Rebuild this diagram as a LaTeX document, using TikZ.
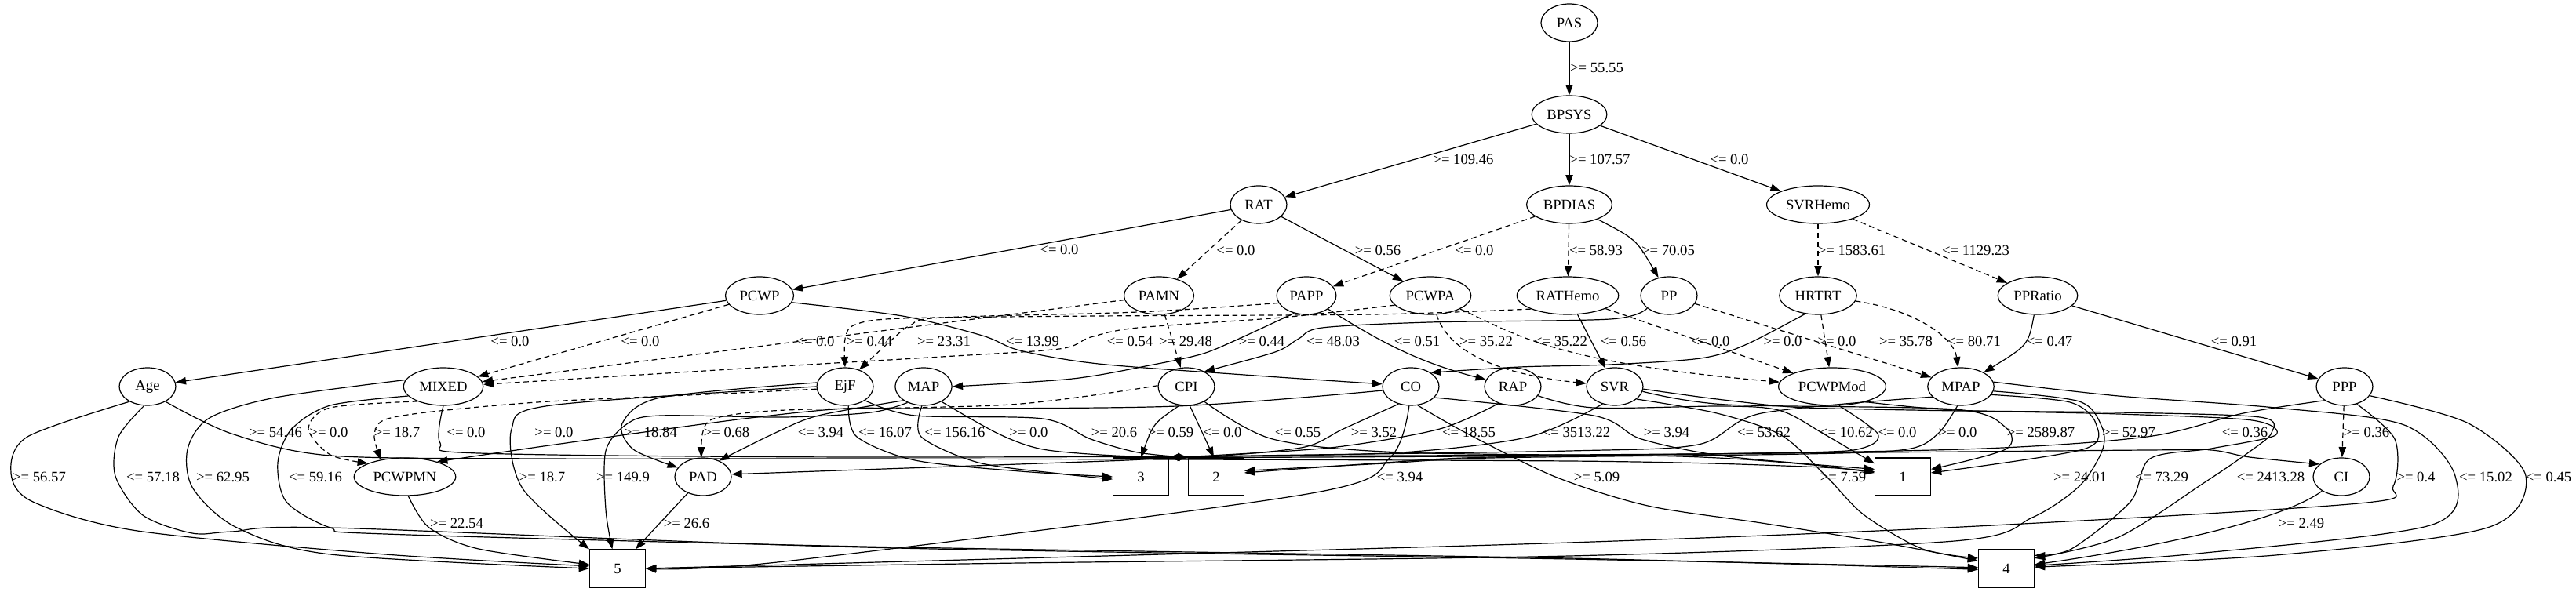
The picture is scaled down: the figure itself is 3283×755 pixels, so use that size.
\documentclass[tikz,border=0pt]{standalone}
\usepackage{fontspec}
\setmainfont{Liberation Serif}
\usetikzlibrary{shapes.geometric,arrows.meta}
\tikzset{
  gvfont/.style={font=\fontsize{14}{16}\selectfont},
  nd/.style={ellipse, draw, line width=0.9pt, minimum width=54pt, minimum height=36pt, inner xsep=4pt, inner ysep=1pt, gvfont},
  leaf/.style={rectangle, draw, line width=0.9pt, minimum width=53pt, minimum height=36pt, gvfont},
  conn/.style={line width=0.9pt, -{Triangle[length=10pt,width=7pt]}},
  dsh/.style={dash pattern=on 5pt off 3.5pt},
  elabel/.style={gvfont, inner sep=0pt},
}
\begin{document}
\begin{tikzpicture}[x=0.75pt,y=-0.75pt]
\useasboundingbox (0,0) rectangle (3283,755);
% nodes
\node[nd] (PAS) at (2000,29) {PAS};
\node[nd] (BPSYS) at (2000,146) {BPSYS};
\node[nd] (RAT) at (1604,261) {RAT};
\node[nd] (BPDIAS) at (2000,261) {BPDIAS};
\node[nd] (SVRHemo) at (2317,261) {SVRHemo};
\node[nd] (PCWP) at (968,377) {PCWP};
\node[nd] (PAMN) at (1477,377) {PAMN};
\node[nd] (PAPP) at (1665,377) {PAPP};
\node[nd] (PCWPA) at (1823,377) {PCWPA};
\node[nd] (RATHemo) at (1998,377) {RATHemo};
\node[nd] (PP) at (2127,377) {PP};
\node[nd] (HRTRT) at (2317,377) {HRTRT};
\node[nd] (PPRatio) at (2597,377) {PPRatio};
\node[nd] (Age) at (188,493) {Age};
\node[nd] (MIXED) at (565,493) {MIXED};
\node[nd] (EjF) at (1077,493) {EjF};
\node[nd] (MAP) at (1177,493) {MAP};
\node[nd] (CPI) at (1512,493) {CPI};
\node[nd] (CO) at (1798,493) {CO};
\node[nd] (RAP) at (1928,493) {RAP};
\node[nd] (SVR) at (2058,493) {SVR};
\node[nd] (PCWPMod) at (2335,493) {PCWPMod};
\node[nd] (MPAP) at (2499,493) {MPAP};
\node[nd] (PPP) at (2988,493) {PPP};
\node[nd] (PCWPMN) at (516,608) {PCWPMN};
\node[nd] (PAD) at (896,608) {PAD};
\node[leaf] (b3) at (1454,608) {3};
\node[leaf] (b2) at (1550,608) {2};
\node[leaf] (b1) at (2425,608) {1};
\node[nd] (CI) at (2984,608) {CI};
\node[leaf] (b5) at (787,725) {5};
\node[leaf] (b4) at (2557,725) {4};

% rows 0-3
\draw[conn] (PAS) -- (BPSYS);
\draw[conn] (BPSYS) -- (RAT);
\draw[conn] (BPSYS) -- (BPDIAS);
\draw[conn] (BPSYS) -- (SVRHemo);
\draw[conn] (RAT) -- (PCWP);
\draw[conn,dsh] (RAT) -- (PAMN);
\draw[conn] (RAT) -- (PCWPA);
\draw[conn,dsh] (BPDIAS) -- (PAPP);
\draw[conn,dsh] (BPDIAS) -- (RATHemo);
\draw[conn] (BPDIAS) .. controls (2085,305) .. (PP);
\draw[conn,dsh] (SVRHemo) -- (HRTRT);
\draw[conn,dsh] (SVRHemo) -- (PPRatio);

% row 3 -> 4
\draw[conn] (PCWP) -- (Age);
\draw[conn,dsh] (PCWP) -- (MIXED);
\draw[conn,dsh] (PAMN) -- (MIXED);
\draw[conn,dsh] plot[smooth,tension=0.5] coordinates {(RATHemo.200) (1750,401) (1400,403) (1150,406) (1090,414) (1077,432) (EjF.north)};
\draw[conn,dsh] plot[smooth,tension=0.5] coordinates {(PAPP.195) (1450,398) (1200,405) (1160,415) (1138,432) (EjF.50)};
\draw[conn] plot[smooth,tension=0.5] coordinates {(PCWP.-12) (1150,403) (1252,428) (1300,447) (1400,464) (1600,479) (CO.175)};
\draw[conn,dsh] plot[smooth,tension=0.5] coordinates {(PCWPA.195) (1633,405) (1450,418) (1390,430) (1350,445) (1200,455) (980,468) (MIXED.3)};
\draw[conn,dsh] (PAMN) -- (CPI);
\draw[conn] plot[smooth,tension=0.5] coordinates {(PAPP.235) (1568,437) (1530,452) (1470,465) (1367,483) (MAP.east)};
\draw[conn] plot[smooth,tension=0.5] coordinates {(PP.210) (2052,407) (1822,411) (1685,418) (1655,432) (1625,449) (CPI.40)};
\draw[conn] (PAPP) .. controls (1750,430) and (1800,460) .. (RAP);
\draw[conn,dsh] (PCWPA) .. controls (1845,445) and (1900,476) .. (SVR);
\draw[conn,dsh] (PCWPA) .. controls (1930,425) and (1975,462) .. (PCWPMod);
\draw[conn] (RATHemo) -- (SVR);
\draw[conn,dsh] (RATHemo) -- (PCWPMod);
\draw[conn] plot[smooth,tension=0.5] coordinates {(HRTRT.235) (2224,440) (2167,457) (2052,465) (1937,468) (CO.35)};
\draw[conn,dsh] (HRTRT) -- (PCWPMod);
\draw[conn,dsh] (PP) -- (MPAP);
\draw[conn,dsh] (HRTRT) .. controls (2440,395) and (2490,430) .. (MPAP);
\draw[conn] (PPRatio) .. controls (2585,440) .. (MPAP);
\draw[conn] (PPRatio) -- (PPP);

% row 4 -> 5 / 6
\draw[conn] plot[smooth,tension=0.5] coordinates {(Age.-40) (295,553) (421,581) (700,585) (1100,585) (2000,588) (2300,595) (b1.170)};
\draw[conn] plot[smooth,tension=0.5] coordinates {(MIXED.-90) (561,565) (610,578) (1100,583) (2000,580) (2736,574) (2818,574) (2867,583) (CI.150)};
\draw[conn] plot[smooth,tension=0.5] coordinates {(Age.220) (35,557) (14,603) (42,640) (175,677) (491,707) (b5.175)};
\draw[conn] plot[smooth,tension=0.5] coordinates {(Age.-100) (151,557) (147,607) (182,657) (245,680) (295,678) (421,673) (1100,698) (2000,713) (b4.178)};
\draw[conn] plot[smooth,tension=0.5] coordinates {(MIXED.170) (351,507) (267,533) (239,573) (246,623) (302,673) (421,707) (b5.180)};
\draw[conn] plot[smooth,tension=0.5] coordinates {(MIXED.195) (421,517) (372,547) (354,590) (365,640) (421,673) (491,681) (1100,697) (2000,712) (b4.182)};
\draw[conn,dsh] plot[smooth,tension=0.5] coordinates {(MIXED.210) (421,520) (393,547) (421,580) (PCWPMN.160)};
\draw[conn,dsh] plot[smooth,tension=0.5] coordinates {(EjF.185) (900,503) (700,512) (560,524) (491,535) (477,555) (PCWPMN.145)};
\draw[conn] plot[smooth,tension=0.5] coordinates {(CO.188) (1500,518) (1177,521) (1077,521) (940,535) (700,568) (PCWPMN.25)};
\draw[conn] plot[smooth,tension=0.5] coordinates {(EjF.172) (842,507) (793,540) (807,573) (PAD.160)};
\draw[conn] plot[smooth,tension=0.5] coordinates {(EjF.180) (702,517) (652,547) (666,623) (b5.north west)};
\draw[conn] plot[smooth,tension=0.5] coordinates {(MAP.225) (1110,526) (1000,532) (842,530) (800,540) (772,575) (772,650) (b5.105)};
\draw[conn,dsh] plot[smooth,tension=0.5] coordinates {(CPI.178) (1288,516) (1002,523) (913,533) (896,550) (PAD.95)};
\draw[conn] plot[smooth,tension=0.5] coordinates {(MAP.215) (1043,530) (986,553) (PAD.45)};
\draw[conn] plot[smooth,tension=0.5] coordinates {(EjF.-80) (1092,557) (1166,587) (1300,601) (b3.west)};
\draw[conn] plot[smooth,tension=0.5] coordinates {(MAP.-95) (1174,557) (1247,590) (1350,604) (b3.185)};
\draw[conn] plot[smooth,tension=0.5] coordinates {(MAP.-40) (1272,553) (1329,573) (1420,581) (b2.north west)};
\draw[conn] plot[smooth,tension=0.5] coordinates {(EjF.-35) (1166,530) (1329,534) (1390,560) (1450,577) (b2.north west)};
\draw[conn] (CPI.-110) .. controls (1470,540) .. (b3.north);
\draw[conn] (CPI.-80) -- (b2.97);
\draw[conn] plot[smooth,tension=0.5] coordinates {(CPI.-40) (1622,560) (1786,577) (2140,582) (2300,592) (b1.172)};
\draw[conn] plot[smooth,tension=0.5] coordinates {(CO.235) (1712,547) (1663,570) (1560,581) (b3.north east)};
\draw[conn] plot[smooth,tension=0.5] coordinates {(RAP.230) (1835,547) (1704,570) (1560,580) (b3.north east)};
\draw[conn] plot[smooth,tension=0.5] coordinates {(SVR.235) (1949,557) (1786,577) (1560,582) (b3.north east)};
\draw[conn] plot[smooth,tension=0.5] coordinates {(MPAP.200) (2245,527) (2164,567) (2000,575) (1600,581) (b3.north east)};
\draw[conn] plot[smooth,tension=0.5] coordinates {(CO.-25) (2031,530) (2092,560) (2200,582) (b1.165)};
\draw[conn] plot[smooth,tension=0.5] coordinates {(RAP.-20) (2031,520) (2200,518) (2270,524) (2327,555) (b1.155)};
\draw[conn] plot[smooth,tension=0.5] coordinates {(SVR.-10) (2200,516) (2491,522) (2556,545) (2556,573) (b1.15)};
\draw[conn] plot[smooth,tension=0.5] coordinates {(MPAP.-15) (2638,513) (2671,540) (2655,573) (b1.8)};
\draw[conn] plot[smooth,tension=0.5] coordinates {(PCWPMod.-70) (2393,553) (2375,571) (2300,577) (1900,583) (1765,590) (b2.8)};
\draw[conn] plot[smooth,tension=0.5] coordinates {(MPAP.-100) (2470,553) (2430,573) (2300,579) (1900,584) (1765,591) (b2.12)};
\draw[conn] plot[smooth,tension=0.5] coordinates {(PPP.215) (2859,527) (2736,557) (2500,573) (2000,581) (1520,584) (1411,588) (PAD.5)};
\draw[conn,dsh] (PPP) -- (CI);
\draw[conn] plot[smooth,tension=0.5] coordinates {(CO.-95) (1772,583) (1666,630) (1000,716) (b5.east)};
\draw[conn] plot[smooth,tension=0.5] coordinates {(CO.-70) (1870,553) (1982,608) (2100,645) (2245,667) (2400,692) (b4.165)};
\draw[conn] plot[smooth,tension=0.5] coordinates {(SVR.-30) (2188,527) (2270,555) (2327,607) (2376,657) (2450,700) (b4.160)};
\draw[conn] plot[smooth,tension=0.5] coordinates {(SVR.-5) (2180,508) (2270,518) (2335,521) (2499,524) (2700,526) (2880,532) (2895,552) (2867,576) (2810,615) (2700,685) (b4.20)};
\draw[conn] plot[smooth,tension=0.5] coordinates {(PCWPMod.-25) (2491,523) (2700,528) (2870,536) (2900,555) (2818,572) (2740,585) (2715,640) (2640,700) (b4.25)};
\draw[conn] plot[smooth,tension=0.5] coordinates {(MPAP.-8) (2650,512) (2679,545) (2679,575) (2650,620) (2590,660) (2491,690) (2000,709) (1300,718) (b5.east)};
\draw[conn] plot[smooth,tension=0.5] coordinates {(MPAP.8) (2700,505) (2900,520) (3064,542) (3129,607) (3097,670) (2800,706) (b4.6)};
\draw[conn] plot[smooth,tension=0.5] coordinates {(PPP.-55) (3052,560) (3050,620) (3006,642) (2500,672) (2000,692) (1300,712) (b5.east)};
\draw[conn] plot[smooth,tension=0.5] coordinates {(PPP.-20) (3146,540) (3219,607) (3170,673) (2900,708) (b4.3)};
\draw[conn] (CI) .. controls (2900,670) and (2700,705) .. (b4);
\draw[conn] plot[smooth,tension=0.5] coordinates {(PCWPMN.-80) (547,673) (610,700) (b5.172)};
\draw[conn] (PAD) -- (b5);

% labels
\foreach \lx/\ly/\lt [count=\i] in {
2035/87/{>= 55.55}, 1865/203/{>= 109.46}, 2039/203/{>= 107.57}, 2204/203/{<= 0.0},
1350/318/{<= 0.0}, 1575/319/{<= 0.0}, 1756/319/{>= 0.56}, 1879/319/{<= 0.0},
2034/319/{<= 58.93}, 2126/319/{>= 70.05}, 2360/319/{>= 1583.61}, 2518/319/{<= 1129.23},
650/435/{<= 0.0}, 816/435/{<= 0.0}, 1039/435/{<= 0.0}, 1108/435/{>= 0.44},
1203/435/{>= 23.31}, 1316/435/{<= 13.99}, 1440/435/{<= 0.54}, 1511/435/{>= 29.48},
1608/435/{>= 0.44}, 1699/435/{<= 48.03}, 1806/435/{<= 0.51}, 1894/435/{>= 35.22},
1989/435/{<= 35.22}, 2069/435/{<= 0.56}, 2180/435/{<= 0.0}, 2272/435/{>= 0.0},
2341/435/{>= 0.0}, 2429/435/{>= 35.78}, 2516/435/{<= 80.71}, 2612/435/{<= 0.47},
2847/435/{<= 0.91},
351/551/{>= 54.46}, 419/551/{>= 0.0}, 506/551/{>= 18.7}, 594/551/{<= 0.0},
706/551/{>= 0.0}, 829/551/{>= 18.84}, 926/551/{>= 0.68}, 1046/551/{<= 3.94},
1128/551/{<= 16.07}, 1217/551/{<= 156.16}, 1311/551/{>= 0.0}, 1420/551/{>= 20.6},
1492/551/{>= 0.59}, 1558/551/{<= 0.0}, 1654/551/{<= 0.55}, 1751/551/{>= 3.52},
1872/551/{<= 18.55}, 2009/551/{<= 3513.22}, 2124/551/{>= 3.94}, 2248/551/{<= 53.62},
2353/551/{<= 10.62}, 2418/551/{<= 0.0}, 2495/551/{>= 0.0}, 2601/551/{>= 2589.87},
2713/551/{>= 52.97}, 2861/551/{<= 0.36}, 3016/551/{>= 0.36},
50/608/{>= 56.57}, 195/608/{<= 57.18}, 284/608/{>= 62.95}, 402/608/{<= 59.16},
691/608/{>= 18.7}, 794/608/{>= 149.9}, 1784/608/{<= 3.94}, 2035/608/{>= 5.09},
2349/608/{>= 7.59}, 2651/608/{>= 24.01}, 2755/608/{<= 73.29}, 2894/608/{<= 2413.28},
3079/608/{>= 0.4}, 3168/608/{<= 15.02}, 3248/608/{<= 0.45},
582/667/{>= 22.54}, 875/667/{>= 26.6}, 2933/667/{>= 2.49}}
{\node[elabel] (lab\i) at (\lx,\ly) {\lt};}
\end{tikzpicture}
\end{document}
